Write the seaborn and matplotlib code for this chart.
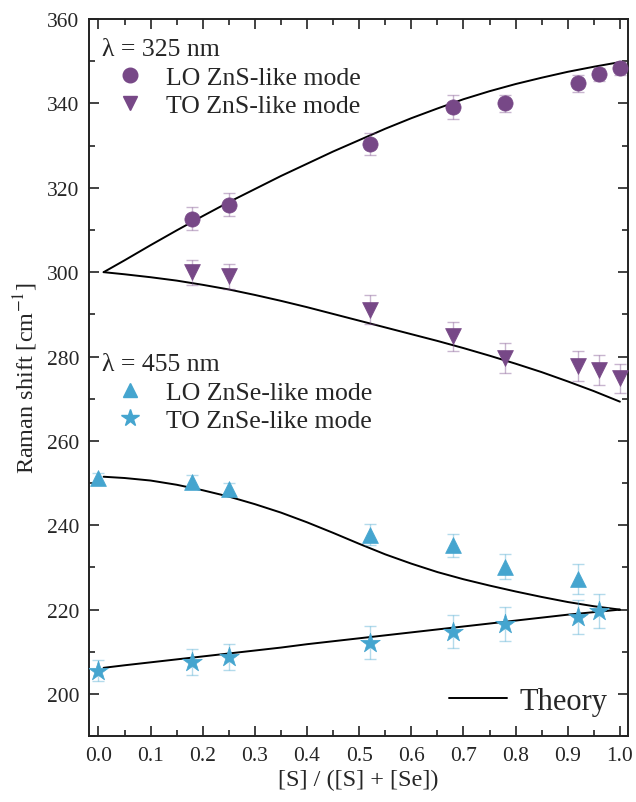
import numpy as np
import pandas as pd
import matplotlib
matplotlib.use("Agg")
import matplotlib.pyplot as plt
from matplotlib.lines import Line2D
from matplotlib.ticker import MultipleLocator
import seaborn as sns

# ---- data ----
x_lo_zns = [0.18, 0.25, 0.52, 0.68, 0.78, 0.92, 0.96, 1.00]
y_lo_zns = [312.7, 316.0, 330.4, 339.1, 340.0, 344.8, 346.9, 348.3]
e_lo_zns = [2.8, 2.8, 2.6, 2.8, 2.0, 2.0, 1.6, 1.6]

x_to_zns = [0.18, 0.25, 0.52, 0.68, 0.78, 0.92, 0.96, 1.00]
y_to_zns = [300.0, 299.0, 291.1, 284.8, 279.6, 277.7, 276.8, 274.8]
e_to_zns = [3.0, 3.0, 3.5, 3.5, 3.5, 3.5, 3.5, 3.5]

x_lo_znse = [0.00, 0.18, 0.25, 0.52, 0.68, 0.78, 0.92]
y_lo_znse = [251.3, 250.3, 248.6, 237.8, 235.2, 230.2, 227.2]
e_lo_znse = [1.0, 1.5, 1.5, 2.5, 2.8, 3.0, 3.5]

x_to_znse = [0.00, 0.18, 0.25, 0.52, 0.68, 0.78, 0.92, 0.96]
y_to_znse = [205.5, 207.6, 208.8, 212.2, 214.8, 216.6, 218.2, 219.6]
e_to_znse = [2.5, 3.0, 3.0, 4.0, 4.0, 4.0, 4.0, 4.0]

x_theory = [0.01, 0.05, 0.1, 0.15, 0.2, 0.25, 0.3, 0.35, 0.4, 0.45, 0.5,
            0.55, 0.6, 0.65, 0.7, 0.75, 0.8, 0.85, 0.9, 0.95, 1.0]
th_lo_zns = [300.0, 302.8, 306.4, 309.9, 313.3, 316.6, 319.7, 322.8, 325.7, 328.6, 331.3,
             334.0, 336.5, 338.8, 341.0, 342.9, 344.6, 346.1, 347.5, 348.7, 349.8]
th_to_zns = [300.0, 299.5, 298.8, 298.0, 297.0, 295.9, 294.6, 293.2, 291.7, 290.1, 288.5,
             286.9, 285.3, 283.7, 282.0, 280.2, 278.3, 276.3, 274.1, 271.8, 269.3]
th_lo_znse = [251.5, 251.2, 250.6, 249.6, 248.3, 246.8, 245.0, 243.0, 240.7, 238.2, 235.6,
              233.1, 230.9, 228.9, 227.2, 225.7, 224.3, 223.0, 221.8, 220.8, 220.0]
th_to_znse = [206.2, 206.8, 207.5, 208.2, 208.9, 209.6, 210.3, 211.0, 211.8, 212.5, 213.2,
              213.9, 214.6, 215.3, 216.0, 216.7, 217.4, 218.1, 218.8, 219.4, 220.0]

purple = "#774887"
blue = "#45a5cf"

sns.set_theme(style="ticks")
plt.rcParams["font.family"] = ["Liberation Serif", "DejaVu Serif"]
plt.rcParams["mathtext.fontset"] = "stix"

fig = plt.figure(figsize=(6.36, 8.03), dpi=100)
ax = fig.add_axes([0.140, 0.082, 0.847, 0.893])

# theory curves
n = len(x_theory)
th_df = pd.DataFrame({"x": x_theory * 4,
                      "y": th_lo_zns + th_to_zns + th_lo_znse + th_to_znse,
                      "g": ["a"] * n + ["b"] * n + ["c"] * n + ["d"] * n})
sns.lineplot(data=th_df, x="x", y="y", units="g", estimator=None, color="black",
             lw=1.4, ax=ax, legend=False, sort=False)

def series(xs, ys, es, color, marker, size):
    ax.errorbar(xs, ys, yerr=es, fmt="none", ecolor=color, alpha=0.4,
                elinewidth=1.0, capsize=4, capthick=1.0, zorder=3)
    df = pd.DataFrame({"x": xs, "y": ys})
    sns.scatterplot(data=df, x="x", y="y", color=color, marker=marker, s=size,
                    edgecolor=color, linewidth=0.5, ax=ax, zorder=4)

series(x_lo_zns, y_lo_zns, e_lo_zns, purple, "o", 120)
series(x_to_zns, y_to_zns, e_to_zns, purple, "v", 130)
series(x_lo_znse, y_lo_znse, e_lo_znse, blue, "^", 130)
series(x_to_znse, y_to_znse, e_to_znse, blue, "*", 220)

ax.set_xlim(-0.018, 1.015)
ax.set_ylim(190, 360)
ax.xaxis.set_major_locator(MultipleLocator(0.1))
ax.xaxis.set_minor_locator(MultipleLocator(0.05))
ax.yaxis.set_minor_locator(MultipleLocator(10))
ax.set_yticks([200, 220, 240, 260, 280, 300, 320, 340, 360])
ax.tick_params(which="both", direction="in", top=True, right=True, width=1.2,
               labelsize=15.5, color="#222222")
ax.tick_params(which="major", length=7, pad=7)
ax.tick_params(which="minor", length=4)
ax.xaxis.set_major_formatter(matplotlib.ticker.FormatStrFormatter("%.1f"))
for s in ax.spines.values():
    s.set_linewidth(1.4)
    s.set_color("#222222")

ax.set_xlabel("[S] / ([S] + [Se])", fontsize=17.5, labelpad=3)
ax.set_ylabel("Raman shift [cm$^{-1}$]", fontsize=17.5, labelpad=5)

# legends
h1 = [Line2D([], [], ls="none", marker="o", color=purple, ms=10.5),
      Line2D([], [], ls="none", marker="v", color=purple, ms=10.5)]
leg1 = ax.legend(h1, ["LO ZnS-like mode", "TO ZnS-like mode"],
                 title="λ = 325 nm", loc="upper left", bbox_to_anchor=(-0.005, 0.995),
                 frameon=False, fontsize=18.5, title_fontsize=18.5, alignment="left",
                 handlelength=2.2, handletextpad=0.3, labelspacing=0.22, borderaxespad=0.2)
ax.add_artist(leg1)
h2 = [Line2D([], [], ls="none", marker="^", color=blue, ms=10.5),
      Line2D([], [], ls="none", marker="*", color=blue, ms=13)]
leg2 = ax.legend(h2, ["LO ZnSe-like mode", "TO ZnSe-like mode"],
                 title="λ = 455 nm", loc="upper left", bbox_to_anchor=(-0.005, 0.556),
                 frameon=False, fontsize=18.5, title_fontsize=18.5, alignment="left",
                 handlelength=2.2, handletextpad=0.3, labelspacing=0.22, borderaxespad=0.2)
ax.add_artist(leg2)
h3 = [Line2D([], [], color="black", lw=1.4)]
ax.legend(h3, ["Theory"], loc="lower right", bbox_to_anchor=(1.013, -0.01),
          frameon=False, fontsize=22, handlelength=1.9, handletextpad=0.4)

fig.savefig("out.png", dpi=100)
